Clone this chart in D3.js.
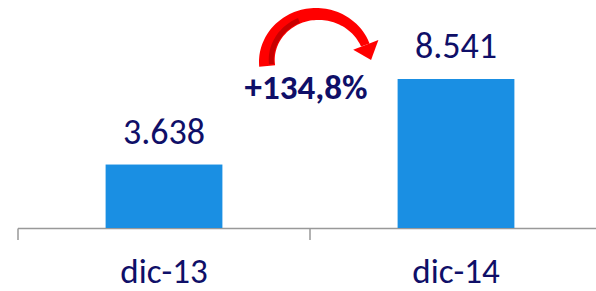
<!DOCTYPE html>
<html>
<head>
<meta charset="utf-8">
<script src="https://cdn.jsdelivr.net/npm/d3@7"></script>
<style>
  body { margin: 0; background: #fff; }
  text { font-family: Carlito, Lato, "Open Sans", sans-serif; }
</style>
</head>
<body>
<div class="chart"></div>
<script>
var categories = ["dic-13", "dic-14"];
var values = [3638, 8541];
var valueLabels = ["3.638", "8.541"];
var changeLabel = "+134,8%";

var svgWidth = 596;
var svgHeight = 291;

var svg = d3.select(".chart")
    .append("svg")
    .attr("width", svgWidth)
    .attr("height", svgHeight);

// band scale: ticks at 18, 310, 602 (last one off screen)
var x = d3.scaleBand()
    .domain(categories)
    .range([18, 602])
    .paddingInner(0.6)
    .paddingOuter(0.3);

var y = d3.scaleLinear()
    .domain([0, 8541])
    .range([228, 79]);

var step = x.step();
var navy = "#0f0f68";

// axis line + ticks
var axis = svg.append("g").attr("class", "axis");
axis.append("line")
    .attr("x1", 18).attr("x2", svgWidth)
    .attr("y1", 228.5).attr("y2", 228.5)
    .attr("stroke", "#999").attr("stroke-width", 1.5);

axis.selectAll(".tick")
    .data(categories)
    .enter()
    .append("line")
    .attr("class", "tick")
    .attr("x1", d => x(d) - step * 0.3)
    .attr("x2", d => x(d) - step * 0.3)
    .attr("y1", 228.5).attr("y2", 240)
    .attr("stroke", "#999").attr("stroke-width", 1.5);

// bars
svg.selectAll(".bar")
    .data(values)
    .enter()
    .append("rect")
    .attr("class", "bar")
    .attr("x", (d, i) => x(categories[i]))
    .attr("width", x.bandwidth())
    .attr("y", d => y(d))
    .attr("height", d => y(0) - y(d))
    .attr("fill", "#1a8fe3");

// value labels
svg.selectAll(".val")
    .data(values)
    .enter()
    .append("text")
    .attr("class", "val")
    .attr("x", (d, i) => x(categories[i]) + x.bandwidth() / 2)
    .attr("y", d => y(d) - 21)
    .attr("text-anchor", "middle")
    .attr("font-size", "36px")
    .attr("fill", navy)
    .text((d, i) => valueLabels[i]);

// category labels
svg.selectAll(".cat")
    .data(categories)
    .enter()
    .append("text")
    .attr("class", "cat")
    .attr("x", d => x(d) + x.bandwidth() / 2)
    .attr("y", 283)
    .attr("text-anchor", "middle")
    .attr("font-size", "35px")
    .attr("fill", navy)
    .text(d => d);

// growth label
svg.append("text")
    .attr("x", 306)
    .attr("y", 99)
    .attr("text-anchor", "middle")
    .attr("font-size", "35px")
    .attr("font-weight", "bold")
    .attr("fill", navy)
    .text(changeLabel);

// curved red arrow
var cx = 316, cy = 62, rx = 57, ry = 54;
var deg = Math.PI / 180;
var thick = a => 9 + 7 * (a - 20) / 165;
var angles = d3.range(185, 19, -5);
var outer = angles.map(a => [cx + rx * Math.cos(a * deg), cy - ry * Math.sin(a * deg)]);
var inner = angles.map(a => [cx + (rx - thick(a)) * Math.cos(a * deg), cy - (ry - thick(a)) * Math.sin(a * deg)]);

var line = d3.line().curve(d3.curveCatmullRom);
var band = line(outer) + "L" + line(inner.slice().reverse()).slice(1) + "Z";
svg.append("path").attr("d", band).attr("fill", "#ff0000");

// darker inner stripe on the left leg
var sAngles = d3.range(183, 109, -4);
var sOut = sAngles.map(a => [cx + (rx - thick(a) + 6) * Math.cos(a * deg), cy - (ry - thick(a) + 6) * Math.sin(a * deg)]);
var sIn = sAngles.map(a => [cx + (rx - thick(a) + 1) * Math.cos(a * deg), cy - (ry - thick(a) + 1) * Math.sin(a * deg)]);
svg.append("path")
    .attr("d", line(sOut) + "L" + line(sIn.slice().reverse()).slice(1) + "Z")
    .attr("fill", "#c80000");

// arrow head
var a0 = 20 * deg;
var mr = thick(20) / 2;
var mx = cx + (rx - mr) * Math.cos(a0), my = cy - (ry - mr) * Math.sin(a0);
var tx = rx * Math.sin(a0), ty = ry * Math.cos(a0);
var tl = Math.hypot(tx, ty); tx /= tl; ty /= tl;
var nx = ty, ny = -tx;
svg.append("path")
    .attr("d", d3.line()([
        [mx + nx * 14, my + ny * 14],
        [mx + tx * 16, my + ty * 16],
        [mx - nx * 13, my - ny * 13]
    ]) + "Z")
    .attr("fill", "#ff0000");
</script>
</body>
</html>
